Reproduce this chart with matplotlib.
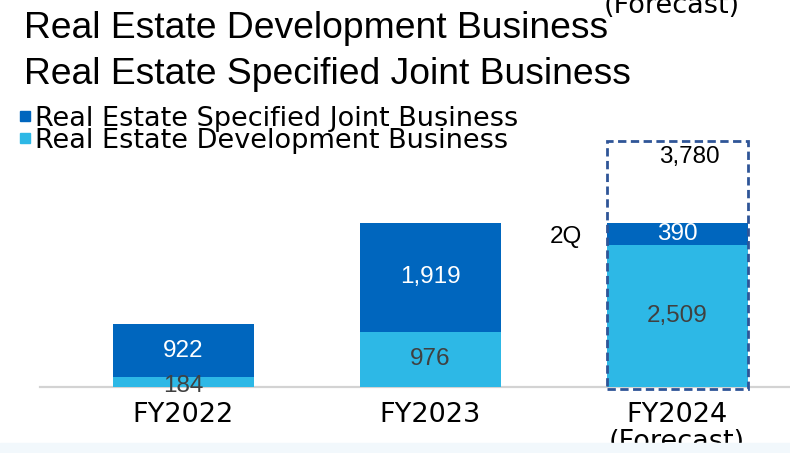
import matplotlib.pyplot as plt
from matplotlib.patches import Rectangle

years = ["FY2022", "FY2023", "FY2024\n(Forecast)"]
development = [184, 976, 2509]  #light blue, bottom
joint = [922, 1919, 390]  #dark blue, top
forecast_total = 3780
forecast_label = "2Q"

dark_blue = "#0066BE"
light_blue = "#2DB8E6"
wide_font = ["DejaVu Sans"]
num_font = dict(family="Liberation Sans", stretch="normal", fontsize=17.5)

fig = plt.figure(figsize=(7.9, 4.53), dpi=100)
ax = fig.add_axes([0, 66 / 453, 1, 387 / 453])

x = list(range(len(years)))
width = 0.571
ax.bar(x, development, width, color=light_blue, zorder=2)
ax.bar(x, joint, width, bottom=development, color=dark_blue, zorder=2)

ax.set_xlim(-0.741, 2.457)
ax.set_ylim(0, 6840)

#baseline
ax.plot([-0.58, 2.457], [0, 0], color="#D3D3D3", lw=1.6, zorder=1, clip_on=False)

#dashed box around the forecast bar (drawn taller than scale, like the original)
box_top = 4350
ax.add_patch(Rectangle((2 - width / 2, -30), width, box_top + 30, fill=False,
                       edgecolor="#2F5597", lw=2, ls=(0, (3, 1.6)), zorder=3, clip_on=False))

#value labels
for i in x:
    ax.text(i, development[i] / 2 if i else 25, f"{development[i]:,}", ha="center", va="center",
            color="#404040", zorder=4, **num_font)
    ax.text(i, development[i] + joint[i] / 2, f"{joint[i]:,}", ha="center", va="center",
            color="white", zorder=4, **num_font)
ax.text(2.05, 4070, f"{forecast_total:,}", ha="center", va="center", color="black", **num_font)
ax.text(1.55, development[2] + joint[2] / 2 - 60, forecast_label, ha="center", va="center",
        color="black", **num_font)

ax.set_xticks(x)
ax.set_xticklabels(years, fontsize=19.5, family=wide_font, linespacing=1.05)
ax.tick_params(axis="x", length=0, pad=11)
ax.set_yticks([])
for s in ax.spines.values():
    s.set_visible(False)

#titles
fig.text(24 / 790, 1 - 38 / 453, "Real Estate Development Business", fontsize=26.8,
         family="Liberation Sans", va="baseline", ha="left")
fig.text(24 / 790, 1 - 84 / 453, "Real Estate Specified Joint Business", fontsize=26.8,
         family="Liberation Sans", va="baseline", ha="left")
fig.text(672 / 790, 1 - 13 / 453, "(Forecast)", fontsize=19.5, family=wide_font,
         va="baseline", ha="center")

#legend
for name, color, ypix in [("Real Estate Specified Joint Business", dark_blue, 116),
                          ("Real Estate Development Business", light_blue, 137.5)]:
    fig.patches.append(Rectangle((20 / 790, 1 - (ypix + 5) / 453), 10 / 790, 10 / 453,
                                 transform=fig.transFigure, color=color))
    fig.text(35 / 790, 1 - (ypix + 10) / 453, name, fontsize=19.5, family=wide_font,
             va="baseline", ha="left")

#faint band at the bottom
fig.patches.append(Rectangle((0, 0), 1, 10 / 453, transform=fig.transFigure,
                             color="#F2F8FC", zorder=0))

fig.savefig("out.png", dpi=100)
